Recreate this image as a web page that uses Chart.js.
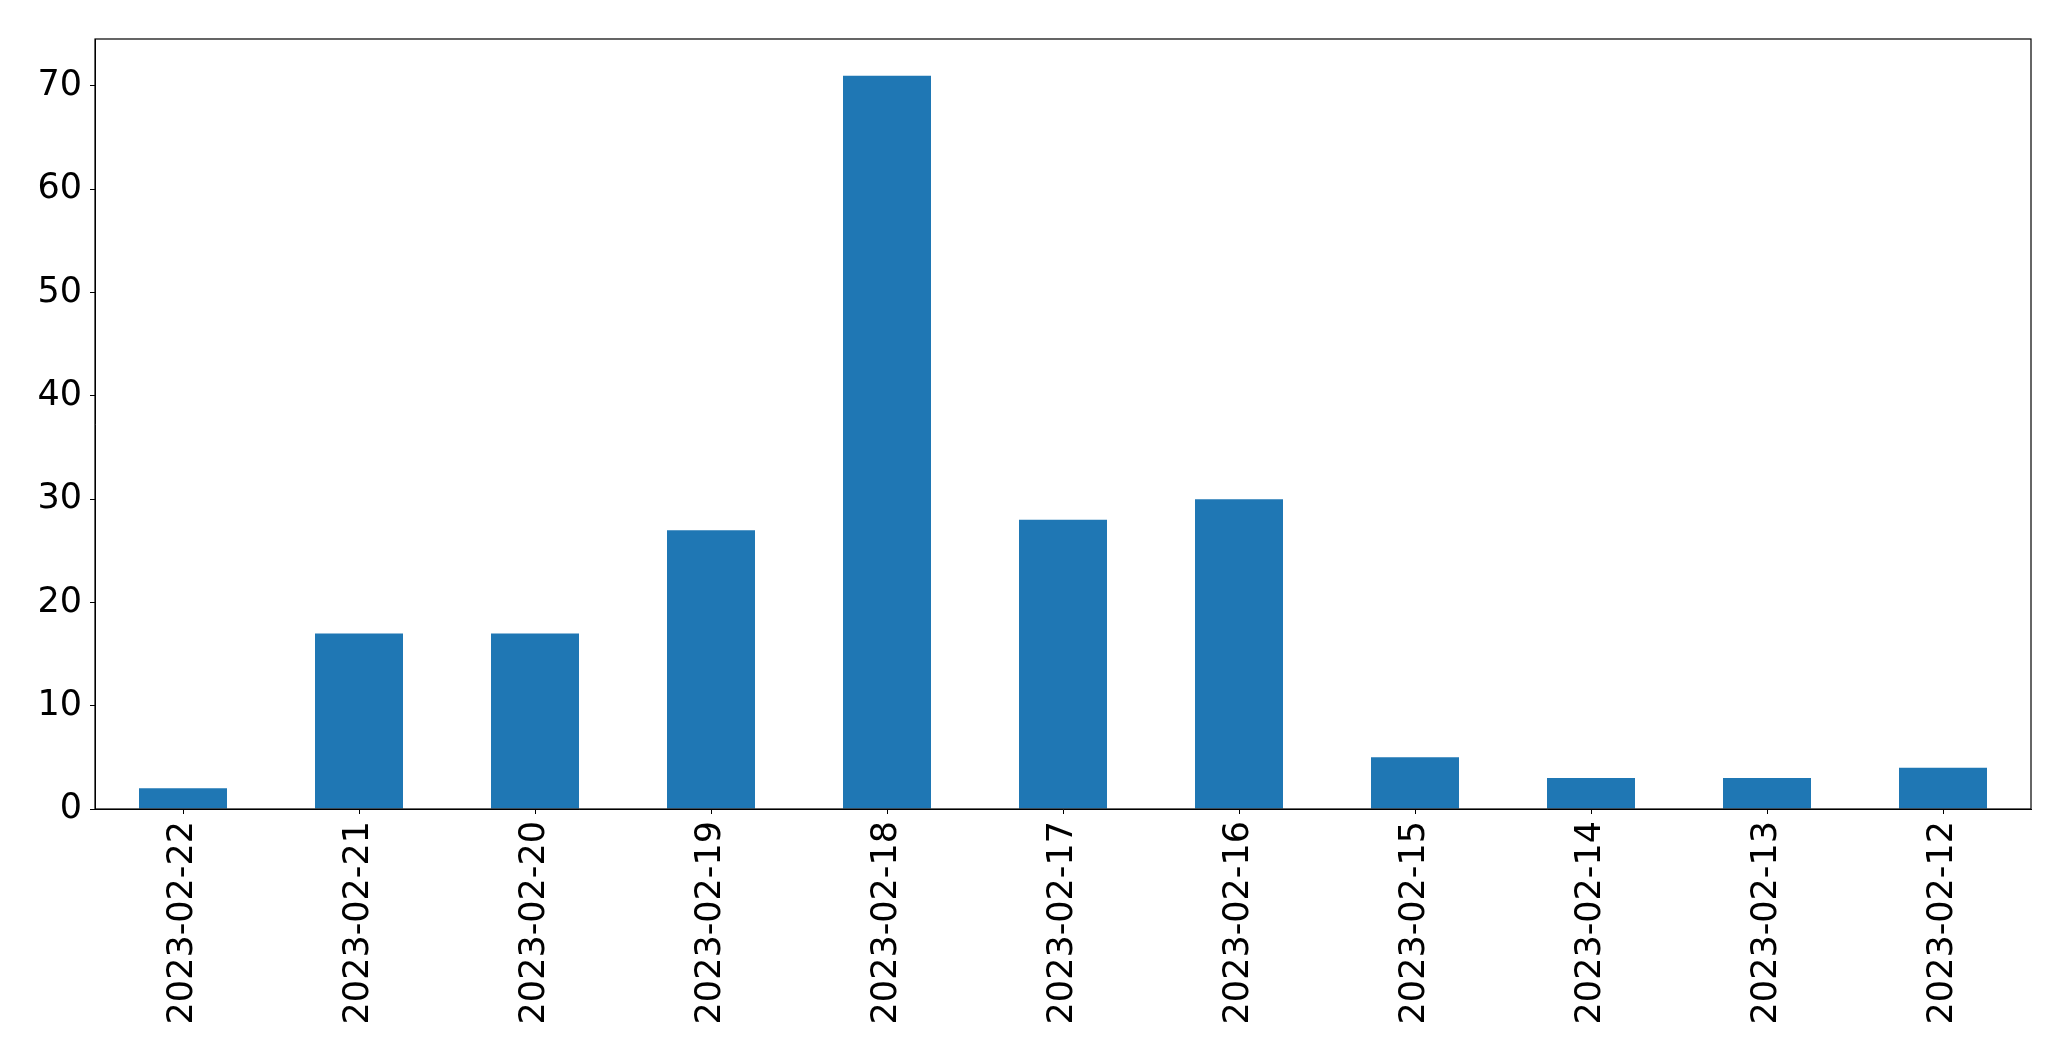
<!DOCTYPE html>
<html>
<head>
<meta charset="utf-8">
<script src="https://cdn.jsdelivr.net/npm/chart.js@4/dist/chart.umd.min.js"></script>
<style>
  html, body { margin: 0; padding: 0; background: #fff; }
  #wrap { width: 2071px; height: 1061px; }
</style>
</head>
<body>
<div id="wrap"><canvas id="countChart"></canvas></div>
<script>
// ===== Data =====
const dates = ['2023-02-22','2023-02-21','2023-02-20','2023-02-19','2023-02-18','2023-02-17',
               '2023-02-16','2023-02-15','2023-02-14','2023-02-13','2023-02-12'];
const counts = [2, 17, 17, 27, 71, 28, 30, 5, 3, 3, 4];
const yTicks = [0, 10, 20, 30, 40, 50, 60, 70];

// box around the plot area, like matplotlib spines
const frame = {
    id: 'frame',
    afterDraw(chart) {
        const a = chart.chartArea, ctx = chart.ctx;
        ctx.save();
        ctx.strokeStyle = '#000';
        ctx.lineWidth = 1.2;
        ctx.strokeRect(a.left, a.top, a.right - a.left, a.bottom - a.top);
        ctx.restore();
    }
};

const font = { family: 'DejaVu Sans', size: 35 };

new Chart(document.getElementById('countChart'), {
    type: 'bar',
    data: {
        labels: dates,
        datasets: [{
            data: counts,
            backgroundColor: '#1f77b4',
            barPercentage: 0.5,
            categoryPercentage: 1.0
        }]
    },
    options: {
        responsive: true,
        maintainAspectRatio: false,
        animation: false,
        layout: { padding: { top: 39, right: 40, left: 0, bottom: 0 } },
        plugins: { legend: { display: false }, tooltip: { enabled: false } },
        scales: {
            x: {
                grid: { offset: false, drawOnChartArea: false, drawTicks: true, tickLength: 5, color: '#000' },
                border: { display: true, color: '#000' },
                ticks: { color: '#000', font: font, minRotation: 90, maxRotation: 90, padding: 7 },
                afterFit(scale) { scale.height = 252; }
            },
            y: {
                min: 0,
                max: 74.55,
                afterBuildTicks(scale) { scale.ticks = yTicks.map(v => ({ value: v })); },
                grid: { drawOnChartArea: false, drawTicks: true, tickLength: 5, color: '#000' },
                border: { display: true, color: '#000' },
                ticks: { color: '#000', font: font, padding: 8 },
                afterFit(scale) { scale.width = 95; }
            }
        }
    },
    plugins: [frame]
});
</script>
</body>
</html>
